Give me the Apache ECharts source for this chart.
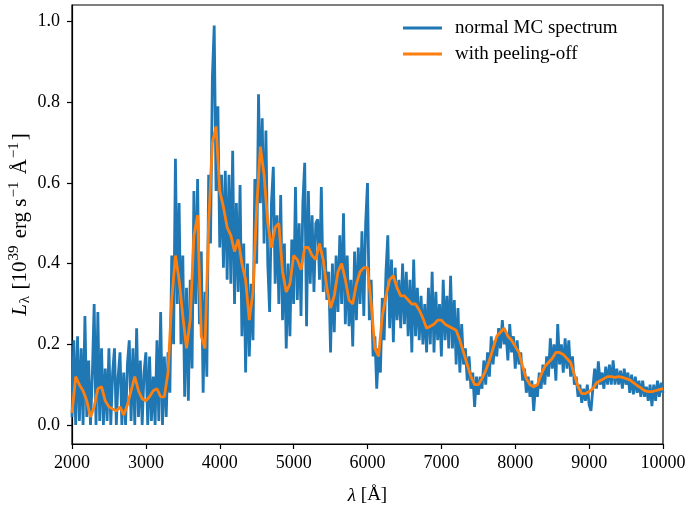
<!DOCTYPE html>
<html>
<head>
<meta charset="utf-8">
<title>MC spectrum</title>
<script src="https://cdn.jsdelivr.net/npm/echarts@6/dist/echarts.min.js"></script>
<style>
	html, body { margin: 0; padding: 0; background: #fff; }
	#chartSpec { width: 688px; height: 508px; }
</style>
</head>
<body>
<div id="chartSpec"></div>
<script>
	// wavelength grids (Angstrom)
	var mcStart = 2000, mcStep = 25;
	var peelStart = 2000, peelStep = 50;

	// normal MC spectrum, one value every 25 A from 2000 A
	var mcFlux = [
		0.02, 0.21, 0.0, 0.22, 0.01, 0.19, 0.0, 0.27, 0.02, 0.16,
		0.0, 0.12, 0.30, 0.0, 0.28, 0.01, 0.19, 0.0, 0.14, 0.01,
		0.19, 0.0, 0.13, 0.19, 0.0, 0.12, 0.18, 0.0, 0.13, 0.0,
		0.15, 0.21, 0.01, 0.19, 0.0, 0.24, 0.02, 0.16, 0.0, 0.13,
		0.18, 0.0, 0.17, 0.01, 0.12, 0.0, 0.21, 0.01, 0.28, 0.0,
		0.17, 0.02, 0.18, 0.08, 0.42, 0.20, 0.66, 0.30, 0.55, 0.20,
		0.42, 0.07, 0.34, 0.06, 0.36, 0.14, 0.58, 0.30, 0.61, 0.25,
		0.43, 0.08, 0.33, 0.12, 0.62, 0.45, 0.86, 0.99, 0.58, 0.79,
		0.44, 0.62, 0.39, 0.63, 0.36, 0.62, 0.35, 0.68, 0.30, 0.55,
		0.33, 0.595, 0.22, 0.45, 0.13, 0.40, 0.17, 0.35, 0.21, 0.61,
		0.40, 0.82, 0.55, 0.76, 0.45, 0.73, 0.40, 0.28, 0.55, 0.64,
		0.35, 0.52, 0.30, 0.57, 0.26, 0.45, 0.19, 0.40, 0.22, 0.46,
		0.30, 0.59, 0.31, 0.50, 0.27, 0.55, 0.65, 0.245, 0.58, 0.35,
		0.52, 0.33, 0.50, 0.51, 0.36, 0.59, 0.33, 0.44, 0.31, 0.38,
		0.18, 0.40, 0.23, 0.42, 0.28, 0.47, 0.30, 0.525, 0.25, 0.42,
		0.245, 0.36, 0.195, 0.43, 0.26, 0.44, 0.30, 0.48, 0.27, 0.50,
		0.60, 0.26, 0.36, 0.17, 0.22, 0.09, 0.19, 0.13, 0.315, 0.21,
		0.38, 0.47, 0.24, 0.41, 0.205, 0.39, 0.26, 0.36, 0.24, 0.40,
		0.25, 0.38, 0.22, 0.36, 0.18, 0.41, 0.22, 0.34, 0.21, 0.32,
		0.20, 0.30, 0.18, 0.34, 0.20, 0.38, 0.18, 0.33, 0.21, 0.30,
		0.17, 0.36, 0.21, 0.32, 0.19, 0.37, 0.19, 0.31, 0.15, 0.29,
		0.13, 0.25, 0.15, 0.19, 0.11, 0.17, 0.09, 0.13, 0.045, 0.12,
		0.075, 0.12, 0.09, 0.16, 0.10, 0.18, 0.12, 0.22, 0.15, 0.21,
		0.17, 0.24, 0.19, 0.26, 0.20, 0.23, 0.16, 0.25, 0.18, 0.22,
		0.14, 0.21, 0.15, 0.18, 0.11, 0.14, 0.08, 0.12, 0.07, 0.11,
		0.035, 0.10, 0.07, 0.13, 0.09, 0.15, 0.10, 0.17, 0.12, 0.215,
		0.14, 0.20, 0.11, 0.25, 0.15, 0.20, 0.13, 0.215, 0.14, 0.21,
		0.12, 0.17, 0.10, 0.12, 0.07, 0.10, 0.055, 0.09, 0.06, 0.10,
		0.05, 0.035, 0.09, 0.14, 0.09, 0.158, 0.10, 0.13, 0.09, 0.145,
		0.10, 0.15, 0.10, 0.16, 0.10, 0.14, 0.10, 0.135, 0.09, 0.14,
		0.10, 0.13, 0.08, 0.125, 0.076, 0.12, 0.08, 0.11, 0.07, 0.11,
		0.07, 0.095, 0.06, 0.10, 0.047, 0.10, 0.06, 0.11, 0.07, 0.105,
		0.08
	];

	// with peeling-off, one value every 50 A from 2000 A
	var peelFlux = [
		0.03, 0.12, 0.10, 0.085, 0.06, 0.02, 0.045, 0.09, 0.095, 0.06,
		0.045, 0.04, 0.035, 0.045, 0.025, 0.05, 0.085, 0.12, 0.085, 0.065,
		0.06, 0.07, 0.085, 0.09, 0.07, 0.07, 0.13, 0.31, 0.42, 0.36,
		0.27, 0.19, 0.26, 0.47, 0.52, 0.22, 0.19, 0.50, 0.70, 0.74,
		0.58, 0.54, 0.49, 0.47, 0.43, 0.46, 0.40, 0.36, 0.26, 0.33,
		0.54, 0.69, 0.62, 0.50, 0.44, 0.49, 0.50, 0.38, 0.33, 0.35,
		0.42, 0.41, 0.385, 0.44, 0.44, 0.42, 0.41, 0.45, 0.41, 0.34,
		0.29, 0.32, 0.38, 0.40, 0.36, 0.31, 0.30, 0.35, 0.38, 0.39,
		0.39, 0.30, 0.19, 0.17, 0.27, 0.32, 0.36, 0.37, 0.34, 0.32,
		0.32, 0.31, 0.30, 0.30, 0.285, 0.265, 0.24, 0.245, 0.25, 0.26,
		0.26, 0.25, 0.245, 0.24, 0.235, 0.21, 0.18, 0.15, 0.12, 0.10,
		0.10, 0.115, 0.135, 0.16, 0.19, 0.22, 0.23, 0.24, 0.22, 0.21,
		0.195, 0.18, 0.145, 0.115, 0.10, 0.095, 0.10, 0.125, 0.145, 0.155,
		0.165, 0.18, 0.18, 0.175, 0.165, 0.155, 0.125, 0.095, 0.078, 0.078,
		0.083, 0.09, 0.105, 0.11, 0.115, 0.12, 0.12, 0.118, 0.12, 0.118,
		0.115, 0.112, 0.105, 0.098, 0.092, 0.085, 0.083, 0.083, 0.085, 0.088,
		0.09
	];

	var yTicks = [0, 0.2, 0.4, 0.6, 0.8, 1.0];
	var seriesNames = ['normal MC spectrum', 'with peeling-off'];

	var serif = 'Liberation Serif';

	function toPairs(start, step, vals) {
		var out = [];
		for (var i = 0; i < vals.length; i++) {
			out.push([start + i * step, vals[i]]);
		}
		return out;
	}

	var myChart = echarts.init(document.getElementById('chartSpec'), null, { renderer: 'canvas' });
	var option = {
		animation: false,
		textStyle: { fontFamily: serif, color: '#000' },
		grid: {
			left: 72,
			right: 25,
			top: 5,
			bottom: 64,
			containLabel: false,
			outerBoundsMode: 'none',
			show: true,
			borderColor: '#000',
			borderWidth: 1.2,
			backgroundColor: 'transparent'
		},
		legend: {
			orient: 'vertical',
			left: 403,
			top: 18,
			padding: 0,
			itemWidth: 39,
			itemHeight: 3,
			itemGap: 6,
			icon: 'rect',
			data: seriesNames,
			textStyle: {
				fontFamily: serif,
				fontSize: 19,
				color: '#000',
				lineHeight: 20,
				padding: [0, 0, 0, 8]
			}
		},
		xAxis: {
			type: 'value',
			min: 2000,
			max: 10000,
			interval: 1000,
			name: '{it|λ} [Å]',
			nameLocation: 'middle',
			nameGap: 42,
			nameTextStyle: {
				fontFamily: serif,
				fontSize: 19,
				color: '#000',
				rich: {
					it: { fontFamily: serif, fontSize: 19, fontStyle: 'italic', color: '#000' }
				}
			},
			axisLine: { show: true, onZero: false, lineStyle: { color: '#000', width: 1.2 } },
			axisTick: { show: true, inside: false, length: 5, lineStyle: { color: '#000', width: 1.2 } },
			axisLabel: {
				fontFamily: serif,
				fontSize: 18,
				color: '#000',
				margin: 10,
				formatter: function (v) { return String(v); }
			},
			splitLine: { show: false }
		},
		yAxis: {
			type: 'value',
			min: -0.047,
			max: 1.041,
			name: '{it|L}{sub|λ}{n| [10}{sup|39}{n| erg s}{sup|−1}{n| Å}{sup|−1}{n|]}',
			nameLocation: 'middle',
			nameRotate: 90,
			nameGap: 39,
			nameMoveOverlap: false,
			nameTextStyle: {
				fontFamily: serif,
				fontSize: 21,
				color: '#000',
				rich: {
					n: { fontFamily: serif, fontSize: 21, lineHeight: 26, verticalAlign: 'middle', color: '#000' },
					it: { fontFamily: serif, fontSize: 21, lineHeight: 26, fontStyle: 'italic', verticalAlign: 'middle', color: '#000' },
					sub: { fontFamily: serif, fontSize: 15, lineHeight: 13, verticalAlign: 'bottom', color: '#000', padding: [0, 1, 0, 1] },
					sup: { fontFamily: serif, fontSize: 15, lineHeight: 13, verticalAlign: 'top', color: '#000', padding: [0, 2, 0, 1] }
				}
			},
			axisLine: { show: true, onZero: false, lineStyle: { color: '#000', width: 1.2 } },
			axisTick: { show: true, inside: false, length: 5, customValues: yTicks, lineStyle: { color: '#000', width: 1.2 } },
			axisLabel: {
				fontFamily: serif,
				fontSize: 18,
				color: '#000',
				margin: 12,
				customValues: yTicks,
				formatter: function (v) { return v.toFixed(1); }
			},
			splitLine: { show: false }
		},
		series: [
			{
				name: seriesNames[0],
				type: 'line',
				data: toPairs(mcStart, mcStep, mcFlux),
				showSymbol: false,
				symbol: 'none',
				color: '#1f77b4',
				lineStyle: { color: '#1f77b4', width: 2.8 },
				z: 2
			},
			{
				name: seriesNames[1],
				type: 'line',
				data: toPairs(peelStart, peelStep, peelFlux),
				showSymbol: false,
				symbol: 'none',
				color: '#ff7f0e',
				lineStyle: { color: '#ff7f0e', width: 2.8 },
				z: 3
			}
		]
	};
	myChart.setOption(option);
</script>
</body>
</html>
